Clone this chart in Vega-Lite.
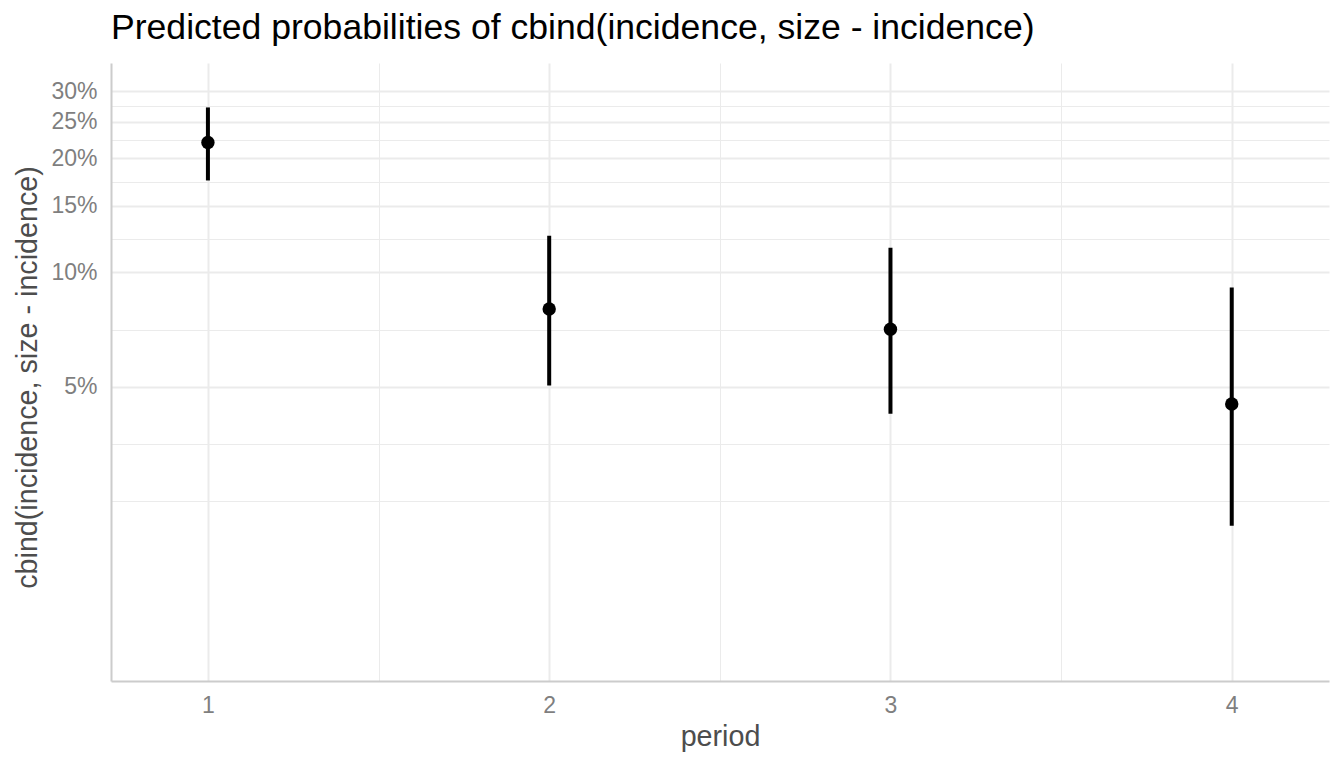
{
  "$schema": "https://vega.github.io/schema/vega-lite/v6.json",
  "width": 1218,
  "height": 618,
  "autosize": {"type": "none"},
  "padding": {"left": 111, "top": 63, "right": 15, "bottom": 87},
  "background": "white",
  "title": {
    "text": "Predicted probabilities of cbind(incidence, size - incidence)",
    "anchor": "start",
    "frame": "group",
    "font": "Liberation Sans",
    "fontSize": 35.6,
    "fontWeight": "normal",
    "color": "black",
    "baseline": "alphabetic",
    "offset": 23,
    "dy": 35
  },
  "config": {"view": {"stroke": null}},
  "data": {
    "values": [
      {"period": 1, "predicted": 0.2202, "lower": 0.1748, "upper": 0.2723},
      {"period": 2, "predicted": 0.0801, "lower": 0.0504, "upper": 0.1250},
      {"period": 3, "predicted": 0.0709, "lower": 0.0424, "upper": 0.1162},
      {"period": 4, "predicted": 0.0450, "lower": 0.0215, "upper": 0.0913}
    ]
  },
  "layer": [
    {
      "mark": {"type": "rule", "color": "black", "strokeWidth": 4},
      "encoding": {
        "x": {
          "field": "period", "type": "quantitative",
          "scale": {"domain": [0.716, 4.285], "nice": false, "zero": false},
          "axis": {
            "values": [1, 2, 3, 4], "format": "d",
            "grid": true, "gridColor": "#ebebeb", "gridWidth": 2,
            "domain": true, "domainColor": "#cccccc", "domainWidth": 2,
            "ticks": false, "tickSize": 0,
            "labelFont": "Liberation Sans", "labelFontSize": 23, "labelColor": "#7f7f7f",
            "labelBaseline": "alphabetic", "labelPadding": 31,
            "title": "period", "titleFont": "Liberation Sans", "titleFontSize": 28.7,
            "titleFontWeight": "normal", "titleColor": "#4d4d4d",
            "titleBaseline": "alphabetic", "titleY": 64
          }
        },
        "y": {
          "field": "lower", "type": "quantitative",
          "scale": {"type": "log", "domain": [0.00838, 0.3566], "nice": false},
          "axis": {
            "values": [0.05, 0.1, 0.15, 0.2, 0.25, 0.3], "format": ".0%",
            "grid": true, "gridColor": "#ebebeb", "gridWidth": 2,
            "domain": true, "domainColor": "#cccccc", "domainWidth": 2,
            "ticks": false, "tickSize": 0,
            "labelFont": "Liberation Sans", "labelFontSize": 23, "labelColor": "#7f7f7f",
            "labelPadding": 14,
            "title": "cbind(incidence, size - incidence)", "titleFont": "Liberation Sans",
            "titleFontSize": 28.7, "titleFontWeight": "normal", "titleColor": "#4d4d4d",
            "titleBaseline": "alphabetic", "titleX": -75, "titleY": 314
          }
        },
        "y2": {"field": "upper"}
      }
    },
    {
      "mark": {"type": "point", "filled": true, "color": "black", "opacity": 1, "size": 180},
      "encoding": {
        "x": {
          "field": "period", "type": "quantitative",
          "scale": {"domain": [0.716, 4.285], "nice": false, "zero": false},
          "axis": {
            "orient": "top", "values": [1.5, 2.5, 3.5],
            "grid": true, "gridColor": "#ebebeb", "gridWidth": 1,
            "domain": false, "ticks": false, "labels": false, "title": null
          }
        },
        "y": {
          "field": "predicted", "type": "quantitative",
          "scale": {"type": "log", "domain": [0.00838, 0.3566], "nice": false},
          "axis": {
            "orient": "right", "values": [0.025, 0.0354, 0.0707, 0.1225, 0.1732, 0.2236, 0.2739],
            "grid": true, "gridColor": "#ebebeb", "gridWidth": 1,
            "domain": false, "ticks": false, "labels": false, "title": null
          }
        }
      }
    }
  ],
  "resolve": {"axis": {"x": "independent", "y": "independent"}}
}
